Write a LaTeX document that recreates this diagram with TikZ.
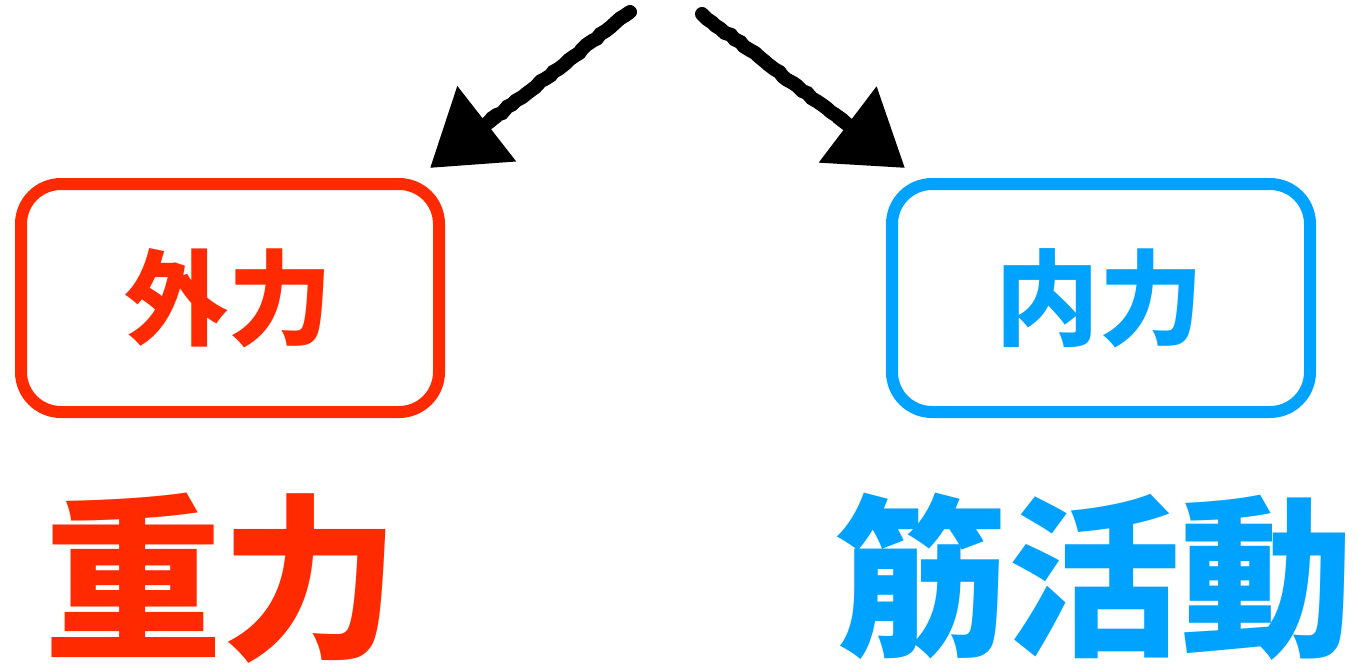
\documentclass[tikz,border=0pt]{standalone}
\usepackage{fontspec}
\newfontfamily\cjk{Noto Sans CJK JP}
\usetikzlibrary{arrows.meta,decorations.pathmorphing,calc}
\definecolor{myred}{HTML}{FF2A00}
\definecolor{myblue}{HTML}{00A2FF}
\begin{document}
\begin{tikzpicture}[x=1pt,y=-1pt,
  forcebox/.style={draw,line width=12pt,rounded corners=40pt,minimum width=418pt,minimum height=228pt,inner sep=0pt},
  boxlabel/.style={font=\cjk\bfseries\fontsize{104}{110}\selectfont},
  biglabel/.style={font=\cjk\bfseries\fontsize{178}{185}\selectfont},
  shaft/.style={line width=14pt,line cap=round,decorate,decoration={random steps,segment length=6pt,amplitude=1.2pt}},
  head/.style={line width=14pt,-{Triangle[length=72pt,width=92pt]}}]
\useasboundingbox (0,0) rectangle (1358,667);
\node[forcebox,myred] (ext) at (230,298) {};
\node[forcebox,myblue] (int) at (1101,298) {};
\node[boxlabel,text=myred] (extl) at (228,298) {外力};
\node[boxlabel,text=myblue] (intl) at (1099,298) {内力};
\node[biglabel,text=myred] (grav) at (222,578) {重力};
\node[biglabel,text=myblue,font=\cjk\bfseries\fontsize{173}{180}\selectfont] (musc) at (1094,577) {筋活動};
\coordinate (s1) at (630,12);
\coordinate (e1) at (430,168);
\coordinate (s2) at (702,14);
\coordinate (e2) at (905,168);
\coordinate (m1) at ($(e1)!75pt!(s1)$);
\coordinate (m2) at ($(e2)!75pt!(s2)$);
\draw[shaft] (s1) -- (m1);
\draw[shaft] (s2) -- (m2);
\draw[head] ($(e1)!85pt!(s1)$) -- (e1);
\draw[head] ($(e2)!85pt!(s2)$) -- (e2);
\end{tikzpicture}
\end{document}
